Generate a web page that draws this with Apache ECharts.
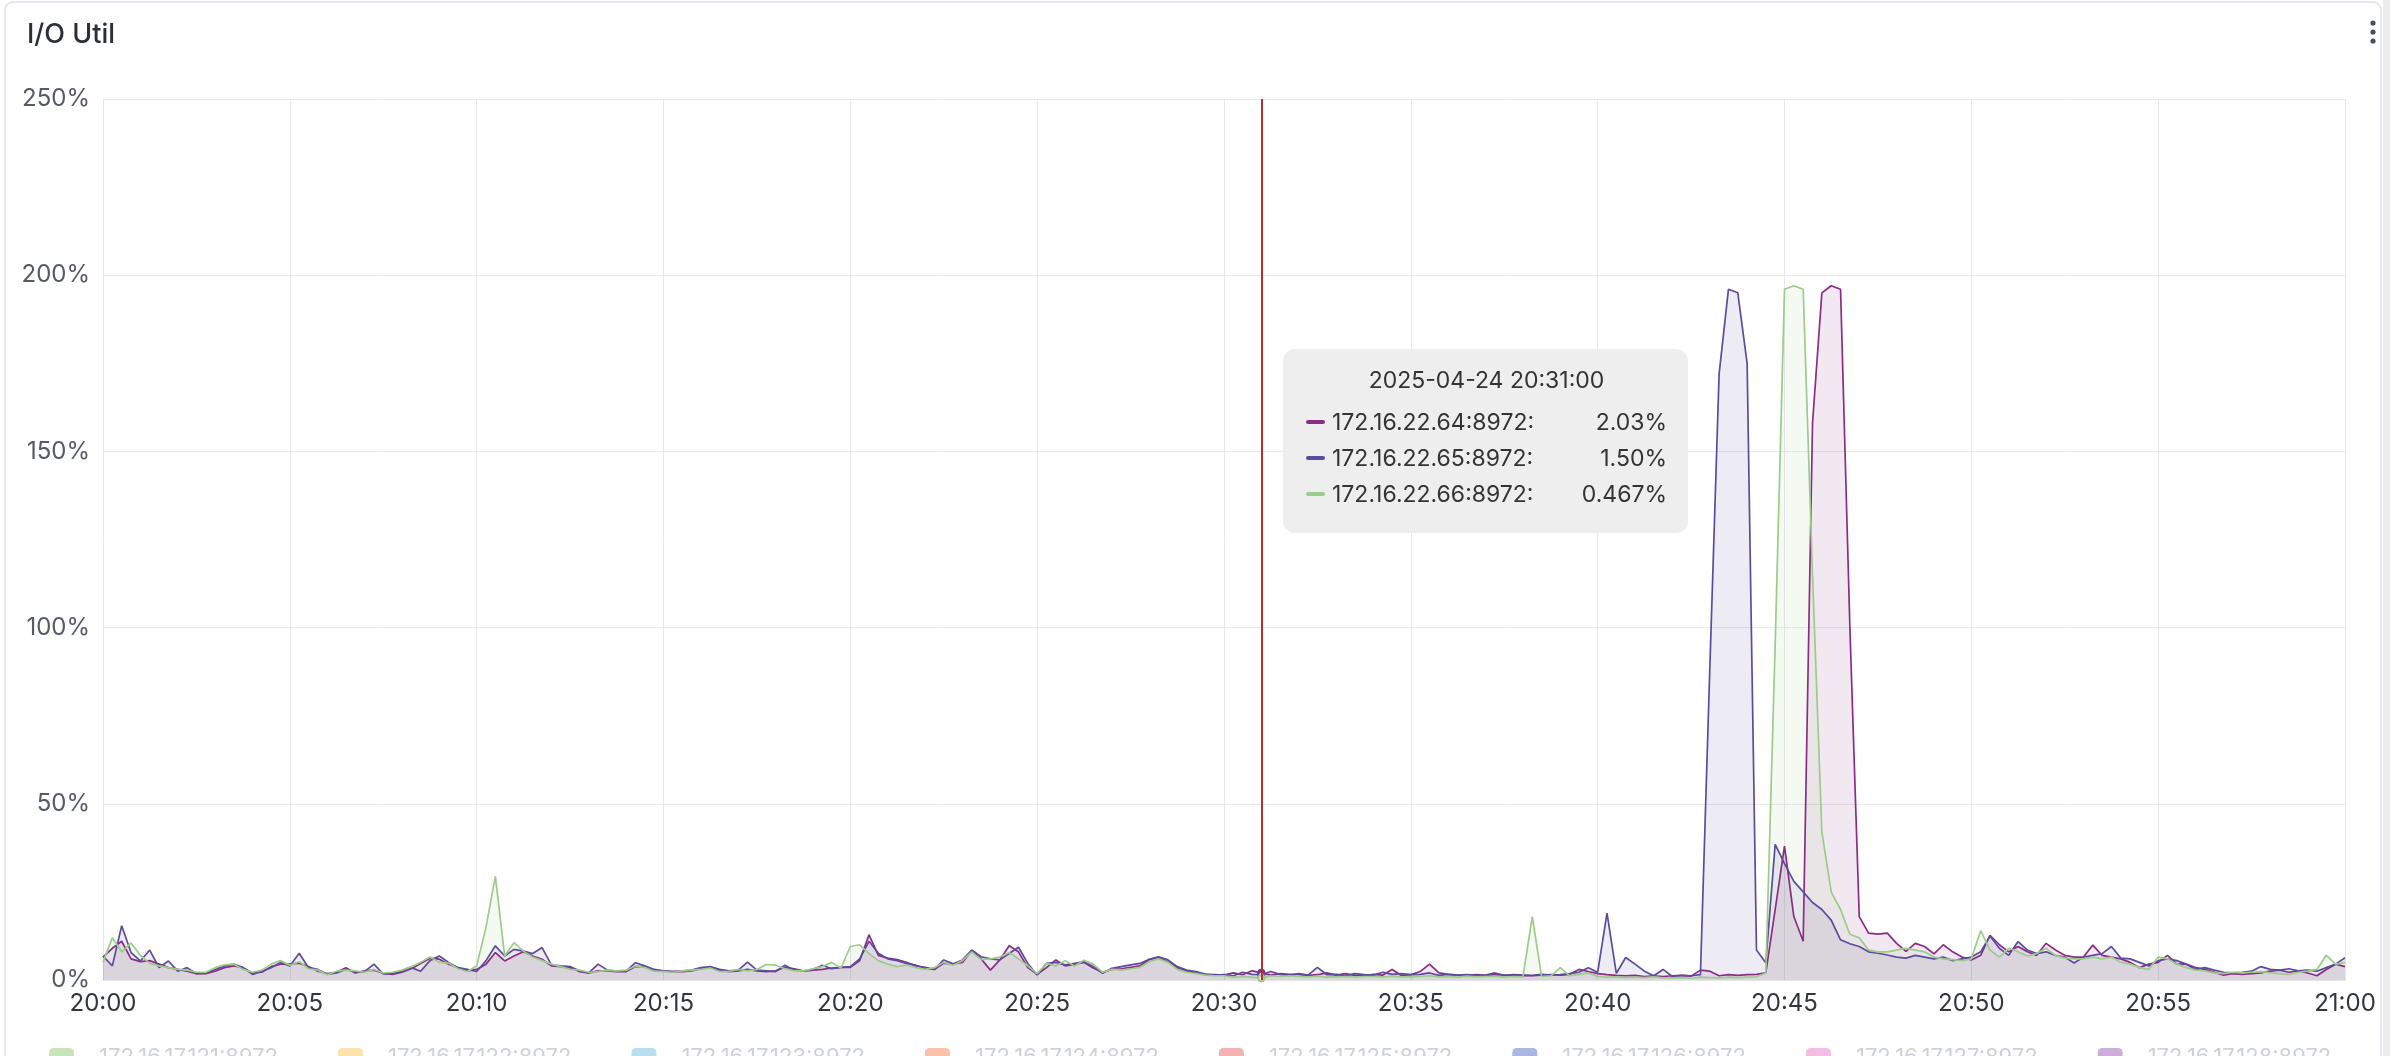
<!DOCTYPE html>
<html>
<head>
<meta charset="utf-8">
<script src="https://cdn.jsdelivr.net/npm/echarts@6/dist/echarts.min.js"></script>
<style>
  html, body { margin: 0; padding: 0; background: #fff; }
  #chart { width: 2390px; height: 1056px; }
</style>
</head>
<body>
<div id="chart"></div>
<script>
// ---- data ----
const titleText = 'I/O Util';
const dateText = '2025-04-24';
const yTicks = [0, 50, 100, 150, 200, 250];

// categories: 15-second samples from 20:00:00 to 21:00:00
const times = [];
for (let i = 0; i <= 240; i++) {
  const s = i * 15, mm = Math.floor(s / 60), ss = s % 60;
  const p = n => String(n).padStart(2, '0');
  times.push(mm === 60 ? dateText + ' 21:00:00' : dateText + ' 20:' + p(mm) + ':' + p(ss));
}

const hostNames = ['172.16.22.64:8972', '172.16.22.65:8972', '172.16.22.66:8972'];
const hostColors = ['#8c2d84', '#5b4c9d', '#9dcb8a'];

// one line per minute (values at :00, :15, :30, :45), last value = 21:00
const host64 = [
  6.5, 9.0, 11.0, 6.0,   5.2, 5.5, 4.5, 3.5,   3.0, 2.5, 1.8, 1.8,   2.5, 3.5, 4.0, 3.5,   2.0, 2.2, 3.8, 4.5,
  4.5, 4.8, 3.8, 2.5,    1.8, 2.2, 3.5, 2.0,   2.6, 2.8, 1.9, 1.6,   2.2, 3.2, 4.7, 6.2,   5.9, 4.5, 3.5, 2.6,
  3.0, 4.5, 7.8, 5.4,    6.8, 8.0, 6.8, 5.9,   4.0, 3.8, 3.5, 2.4,   2.0, 2.6, 2.6, 2.4,   2.4, 3.8, 3.8, 2.8,
  2.5, 2.4, 2.4, 2.6,    3.2, 3.6, 2.8, 2.4,   2.6, 3.0, 2.6, 2.4,   2.6, 3.6, 3.2, 2.5,   2.8, 3.0, 3.4, 3.6,
  3.6, 5.5, 12.8, 7.0,   6.2, 5.8, 5.0, 4.0,   3.6, 3.0, 4.8, 4.5,   5.0, 8.3, 6.0, 2.8,   5.7, 9.7, 8.0, 3.5,
  1.6, 3.5, 5.7, 4.0,    4.4, 5.0, 3.4, 2.2,   3.0, 3.2, 3.6, 4.0,   5.8, 6.4, 5.2, 3.4,   2.6, 2.0, 1.6, 1.5,
  1.4, 2.0, 1.5, 2.6,    2.03, 1.4, 1.8, 1.6,  1.6, 1.3, 1.5, 2.0,   1.4, 1.8, 1.3, 1.2,   1.6, 1.4, 3.0, 1.3,
  1.5, 2.4, 4.5, 2.0,    1.6, 1.4, 1.3, 1.5,   1.3, 1.5, 1.4, 1.2,   1.3, 1.2, 1.4, 1.5,   1.4, 1.6, 3.0, 2.4,
  1.8, 1.5, 1.3, 1.2,    1.3, 1.0, 1.2, 1.0,   1.2, 1.3, 1.1, 2.8,   2.5, 1.2, 1.5, 1.3,   1.5, 1.6, 2.0, 20,
  38, 18, 11, 158,       195, 197, 196, 100,   18, 13.3, 13.0, 13.3, 10.4, 8.1, 10.4, 9.5,  7.4, 10.0, 8.0, 6.5,
  5.7, 7.0, 12.7, 10.0,  8.0, 9.5, 8.0, 7.0,   10.4, 8.5, 7.0, 6.5,  6.5, 9.9, 7.0, 6.5,   6.0, 5.0, 3.5, 4.5,
  5.0, 7.0, 4.5, 4.5,    3.5, 3.0, 2.2, 1.4,   1.8, 1.6, 1.8, 2.0,   2.5, 2.8, 2.2, 2.6,   2.0, 1.2, 3.0, 4.5,
  3.8
];
const host65 = [
  6.8, 4.0, 15.4, 7.8,   5.4, 8.5, 3.5, 5.4,   2.5, 3.5, 1.8, 2.0,   3.0, 4.0, 4.5, 3.5,   1.6, 2.5, 3.5, 5.0,
  4.0, 7.6, 3.5, 3.0,    1.6, 2.0, 3.0, 2.3,   2.4, 4.5, 1.7, 1.8,   2.5, 3.5, 2.5, 5.5,   6.8, 5.0, 3.5, 3.0,
  2.4, 5.5, 9.7, 6.8,    8.7, 8.2, 7.5, 9.2,   4.3, 4.0, 3.8, 2.6,   2.0, 4.5, 2.8, 2.5,   2.5, 4.9, 4.0, 3.0,
  2.6, 2.4, 2.6, 2.8,    3.5, 3.8, 3.0, 2.6,   2.8, 5.1, 2.8, 2.6,   2.4, 4.2, 2.8, 2.6,   3.0, 4.2, 3.2, 3.6,
  3.8, 6.0, 11.0, 7.6,   6.0, 5.5, 4.7, 4.2,   3.3, 3.0, 5.7, 4.6,   5.7, 8.5, 6.6, 6.0,   5.7, 7.5, 9.3, 4.7,
  1.4, 4.7, 5.0, 4.3,    4.7, 5.2, 3.8, 1.9,   3.3, 3.8, 4.3, 4.7,   5.9, 6.6, 5.7, 3.8,   2.8, 2.4, 1.7, 1.4,
  1.5, 1.2, 2.2, 1.6,    1.50, 2.4, 1.6, 1.3,  1.8, 1.4, 3.6, 1.5,   1.6, 1.2, 1.8, 1.5,   1.4, 2.2, 1.6, 1.8,
  1.5, 1.6, 2.0, 1.3,    1.6, 1.4, 1.5, 1.3,   1.4, 2.0, 1.3, 1.5,   1.4, 1.3, 1.6, 1.4,   1.5, 1.8, 2.2, 3.5,
  2.2, 19.0, 1.9, 6.4,   4.5, 2.5, 1.2, 3.0,   1.0, 1.3, 1.2, 1.5,   88, 172, 196, 195,    175, 8.5, 4.9, 38.5,
  33, 28, 25, 22,        20, 17, 11.4, 10.3,   9.5, 8.0, 7.6, 7.1,   6.5, 6.2, 7.0, 6.5,   6.0, 6.5, 5.5, 6.0,
  6.5, 8.0, 12.5, 9.0,   7.0, 10.9, 8.5, 7.5,  8.0, 7.0, 6.5, 4.8,   6.5, 7.0, 7.5, 9.5,   6.2, 6.0, 5.0, 4.0,
  5.5, 6.0, 5.5, 4.5,    3.0, 3.5, 2.8, 2.2,   2.0, 2.2, 2.5, 3.8,   3.0, 2.8, 3.2, 2.6,   2.8, 2.5, 3.5, 4.5,
  6.3
];
const host66 = [
  5.0, 12.0, 8.0, 10.5,  7.0, 4.7, 4.0, 3.5,   3.0, 2.8, 2.2, 2.2,   3.5, 4.3, 4.5, 3.0,   2.2, 2.8, 4.5, 5.5,
  4.2, 5.2, 3.2, 2.8,    1.5, 2.5, 2.8, 2.6,   2.2, 3.0, 2.0, 2.2,   2.8, 3.8, 5.0, 6.5,   5.0, 4.8, 3.2, 2.4,
  4.0, 15.0, 29.4, 6.8,  10.6, 8.2, 6.5, 5.5,  4.5, 3.8, 3.0, 2.8,   2.2, 2.4, 2.8, 2.6,   2.8, 4.0, 3.5, 2.5,
  2.4, 2.2, 2.6, 2.8,    3.0, 3.4, 2.4, 2.4,   3.0, 2.6, 3.0, 4.4,   4.2, 3.2, 2.6, 2.6,   3.2, 3.8, 5.0, 3.4,
  9.5, 10.0, 7.5, 5.5,   4.5, 3.8, 4.2, 3.5,   3.0, 3.5, 5.0, 4.2,   5.5, 8.0, 5.8, 6.0,   6.5, 7.8, 6.0, 4.0,
  1.8, 4.7, 4.0, 5.5,    4.0, 5.6, 4.5, 2.2,   3.0, 2.8, 3.2, 3.6,   5.2, 6.0, 5.0, 3.0,   2.2, 1.8, 1.4, 1.2,
  1.2, 0.8, 1.0, 0.8,    0.467, 1.2, 1.0, 1.2, 1.0, 0.9, 1.1, 0.8,   0.9, 1.0, 0.8, 1.0,   1.0, 0.9, 1.1, 0.9,
  0.9, 1.0, 1.2, 0.9,    1.0, 0.8, 1.1, 0.9,   1.0, 1.1, 0.8, 1.0,   0.9, 18.0, 1.0, 1.2,  3.5, 1.2, 1.6, 2.0,
  1.0, 0.8, 0.9, 0.7,    0.8, 0.7, 0.9, 0.6,   0.6, 0.7, 0.5, 0.8,   0.7, 0.6, 0.8, 0.7,   0.8, 0.9, 2.0, 95,
  196, 197, 196, 115,    42, 25, 20, 13,       12, 8.5, 8.0, 8.0,    8.5, 9.0, 8.5, 8.0,   6.5, 6.0, 5.8, 5.5,
  6.0, 14.0, 8.5, 6.5,   9.0, 8.0, 6.8, 7.5,   9.0, 7.0, 6.2, 6.0,   6.0, 6.5, 6.0, 6.5,   5.0, 4.5, 3.5, 3.0,
  6.5, 6.0, 4.5, 3.5,    2.8, 2.6, 2.0, 1.8,   2.2, 2.0, 2.2, 2.4,   2.0, 1.8, 1.6, 2.2,   2.5, 3.0, 7.0, 4.5,
  5.0
];
const hostSeries = [host64, host65, host66];

// legend entries that are switched off in the reference (no line drawn)
const offHosts = ['172.16.17.121:8972', '172.16.17.122:8972', '172.16.17.123:8972', '172.16.17.124:8972',
                  '172.16.17.125:8972', '172.16.17.126:8972', '172.16.17.127:8972', '172.16.17.128:8972'];
const offColors = ['rgba(145,204,117,0.5)', 'rgba(250,200,88,0.5)', 'rgba(115,192,222,0.5)', 'rgba(252,132,82,0.5)',
                   'rgba(238,102,102,0.5)', 'rgba(84,112,198,0.5)', 'rgba(234,124,204,0.5)', 'rgba(154,96,180,0.5)'];

const tipIndex = times.indexOf(dateText + ' 20:31:00');

// ---- chart ----
const FONT = 'Inter, "Noto Sans", sans-serif';
const chart = echarts.init(document.getElementById('chart'));

const series = hostNames.map((n, i) => ({
  name: n, type: 'line', data: hostSeries[i],
  color: hostColors[i], showSymbol: false, symbolSize: 4,
  lineStyle: { width: 1.7 }, areaStyle: { opacity: 0.11 },
  emphasis: { disabled: true }, animation: false
}));
offHosts.forEach((n, i) => series.push({ name: n, type: 'line', data: [], color: offColors[i], animation: false }));

chart.setOption({
  animation: false,
  textStyle: { fontFamily: FONT },
  title: { text: titleText, left: 22, top: 16, textStyle: { fontFamily: FONT, fontSize: 27, fontWeight: 500, color: '#2b2f36' } },
  graphic: [
    { type: 'rect', shape: { x: 5, y: 2, width: 2376, height: 1100, r: 8 }, style: { fill: 'none', stroke: '#dfe1ea', lineWidth: 1.5 }, silent: true, z: -1 },
    { type: 'rect', shape: { x: 2383, y: 0, width: 7, height: 1056 }, style: { fill: '#ececec' }, silent: true },
    { type: 'circle', shape: { cx: 2373, cy: 23, r: 2.6 }, style: { fill: '#4a4f5a' }, silent: true },
    { type: 'circle', shape: { cx: 2373, cy: 32, r: 2.6 }, style: { fill: '#4a4f5a' }, silent: true },
    { type: 'circle', shape: { cx: 2373, cy: 41, r: 2.6 }, style: { fill: '#4a4f5a' }, silent: true }
  ],
  grid: { left: 103, right: 45, top: 99, bottom: 76 },
  legend: {
    top: 1041, left: 44, right: 0,
    itemWidth: 25, itemHeight: 18, itemGap: 60, icon: 'roundRect',
    textStyle: { fontFamily: FONT, fontSize: 22, color: '#cdd1d8', padding: [0, 0, 0, 20] },
    data: offHosts.map((n, i) => ({ name: n, itemStyle: { color: offColors[i] } })).concat(hostNames)
  },
  tooltip: {
    trigger: 'axis', alwaysShowContent: true, transitionDuration: 0,
    position: [1283, 349], padding: 0, borderWidth: 0,
    backgroundColor: '#eeeeee',
    extraCssText: 'border-radius:12px;box-shadow:none;',
    axisPointer: { type: 'line', lineStyle: { color: '#b8312f', width: 2, type: 'solid' }, label: { show: false } },
    formatter: params => {
      const ps = params.filter(p => typeof p.value === 'number');
      let h = '<div style="box-sizing:border-box;width:405px;padding:16px 21px 21px 23px;font-family:' + FONT.replace(/"/g, "'") + ';color:#333;">';
      h += '<div style="text-align:center;font-size:23px;line-height:30px;margin-bottom:9px;">' + params[0].axisValue + '</div>';
      ps.forEach(p => {
        h += '<div style="display:flex;align-items:center;font-size:23px;line-height:36px;">' +
             '<span style="display:inline-block;width:19px;height:4px;border-radius:2px;background:' + p.color + ';"></span>' +
             '<span style="margin-left:7px;">' + p.seriesName + ':</span>' +
             '<span style="margin-left:auto;">' + p.value.toPrecision(3) + '%</span></div>';
      });
      return h + '</div>';
    }
  },
  xAxis: {
    type: 'category', data: times, boundaryGap: false,
    axisTick: { show: false },
    axisLine: { show: true, lineStyle: { color: '#e3e3e8' } },
    axisLabel: {
      interval: (i) => i % 20 === 0, margin: 12,
      fontFamily: FONT, fontSize: 24, color: '#33363d',
      formatter: v => v.slice(11, 16)
    },
    splitLine: { show: true, interval: (i) => i % 20 === 0, lineStyle: { color: '#e6e6eb', width: 1 } }
  },
  yAxis: {
    type: 'value', min: yTicks[0], max: yTicks[yTicks.length - 1], interval: yTicks[1] - yTicks[0],
    axisLine: { show: false }, axisTick: { show: false },
    axisLabel: { margin: 13, fontFamily: FONT, fontSize: 24, color: '#555a64', formatter: '{value}%' },
    splitLine: { lineStyle: { color: '#e8e8ec', width: 1 } }
  },
  series: series
});

chart.dispatchAction({ type: 'showTip', seriesIndex: 0, dataIndex: tipIndex });
</script>
</body>
</html>
